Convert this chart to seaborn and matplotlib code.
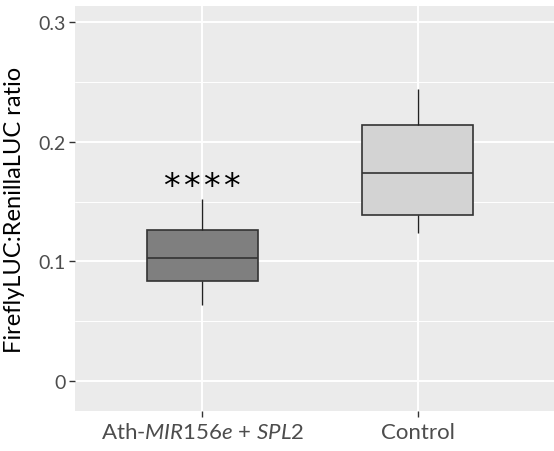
import numpy as np
import pandas as pd
import seaborn as sns
import matplotlib.pyplot as plt

# Groups and their five-number summaries (min, Q1, median, Q3, max)
groups = ["Ath-MIR156e + SPL2", "Control"]
mir156e_spl2 = [0.0636, 0.0839, 0.1027, 0.1264, 0.1523]
control = [0.1238, 0.1389, 0.1735, 0.2137, 0.2444]
box_colors = ["#7F7F7F", "#D3D3D3"]
tick_labels = [r"Ath-$\mathit{MIR156e}$ + $\mathit{SPL2}$", "Control"]
y_ticks = [0, 0.1, 0.2, 0.3]
y_tick_labels = ["0", "0.1", "0.2", "0.3"]
signif_label = "*\u200a*\u200a*\u200a*"

df = pd.DataFrame({
    "group": [groups[0]] * len(mir156e_spl2) + [groups[1]] * len(control),
    "ratio": mir156e_spl2 + control,
})

sns.set_theme(style="darkgrid")
plt.rcParams["font.family"] = ["Lato", "DejaVu Sans"]
plt.rcParams["mathtext.fontset"] = "custom"
plt.rcParams["mathtext.rm"] = "Lato"
plt.rcParams["mathtext.it"] = "Lato:italic"

fig = plt.figure(figsize=(5.54, 4.52), dpi=100)
ax = fig.add_axes([75 / 554, 40 / 452, 479 / 554, 405 / 452])
ax.set_facecolor("#EBEBEB")

sns.boxplot(
    data=df, x="group", y="ratio", hue="group", order=groups,
    palette=box_colors, legend=False, width=0.515, whis=(0, 100),
    linecolor="#333333", linewidth=1.2, showcaps=False,
    whiskerprops={"linewidth": 1.0, "color": "#222222"},
    ax=ax,
)

ax.set_xlim(-0.591, 1.633)
ax.set_ylim(-0.0251, 0.3135)
ax.set_yticks(y_ticks)
ax.set_yticklabels(y_tick_labels)
ax.set_yticks([0.05, 0.15, 0.25], minor=True)
ax.set_xticks([0, 1])
ax.set_xticklabels(tick_labels)

ax.grid(True, which="major", color="white", linewidth=1.4)
ax.grid(True, which="minor", axis="y", color="white", linewidth=0.7)
ax.set_axisbelow(True)
for s in ax.spines.values():
    s.set_visible(False)

ax.tick_params(axis="both", which="major", bottom=True, left=True, length=4,
               width=1.0, color="#333333", labelcolor="#4D4D4D", pad=3)
ax.tick_params(axis="x", which="major", labelsize=16, pad=4)
ax.tick_params(axis="y", which="major", labelsize=14)
ax.tick_params(axis="both", which="minor", length=0)

ax.set_xlabel("")
ax.set_ylabel("FireflyLUC:RenillaLUC ratio", fontsize=17, color="black", labelpad=9)

ax.text(0, 0.1625, signif_label, ha="center", va="center", fontsize=24,
        family=["DejaVu Sans"], color="black")

fig.savefig("out.png", dpi=100)
